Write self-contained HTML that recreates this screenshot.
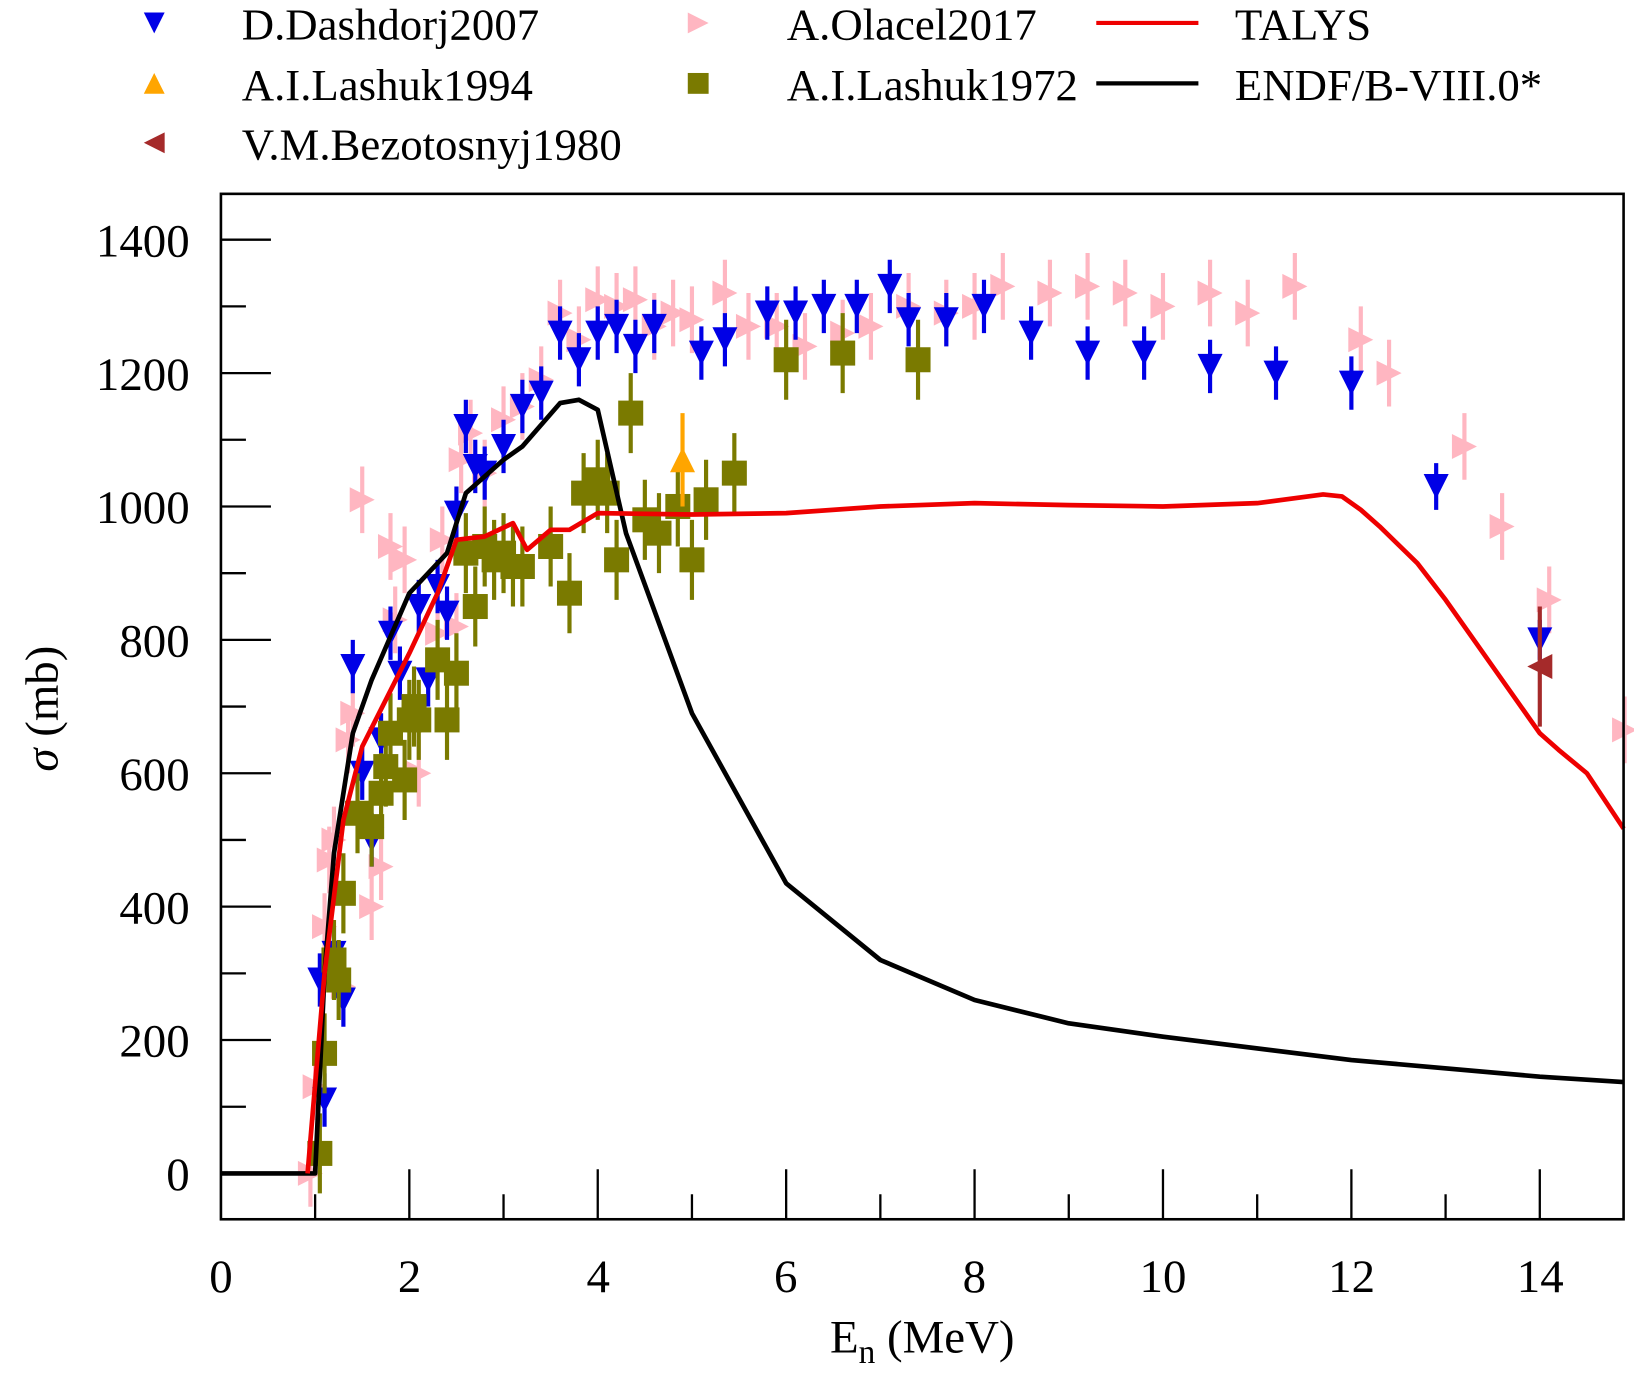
<!DOCTYPE html>
<html><head><meta charset="utf-8"><style>html,body{margin:0;padding:0;background:#fff}svg{display:block}</style></head>
<body>
<svg id="s" width="1634" height="1373" viewBox="0 0 1568 1317.5" xmlns="http://www.w3.org/2000/svg" font-family="'Liberation Serif',serif">
<rect width="1568" height="1317.5" fill="#fff"/>
<g id="data"></g>
<rect x="212" y="186" width="1346" height="984" fill="none" stroke="#000" stroke-width="2.5"/>
<g id="ticks" stroke="#000" stroke-width="2.2"></g>
<g font-size="45" text-anchor="end">
<text x="182" y="246">1400</text><text x="182" y="374">1200</text><text x="182" y="502">1000</text>
<text x="182" y="630">800</text><text x="182" y="758">600</text><text x="182" y="886">400</text>
<text x="182" y="1014">200</text><text x="182" y="1142">0</text>
</g>
<g font-size="45" text-anchor="middle">
<text x="212" y="1240">0</text><text x="393" y="1240">2</text><text x="574" y="1240">4</text><text x="754" y="1240">6</text>
<text x="935" y="1240">8</text><text x="1116" y="1240">10</text><text x="1297" y="1240">12</text><text x="1478" y="1240">14</text>
<text x="885" y="1298">E<tspan font-size="32" dy="10">n</tspan><tspan dy="-10"> (MeV)</tspan></text>
</g>
<text font-size="45" transform="translate(55,680) rotate(-90)" text-anchor="middle"><tspan font-style="italic">σ</tspan> (mb)</text>
<g font-size="43">
<text x="232" y="38">D.Dashdorj2007</text><text x="232" y="96">A.I.Lashuk1994</text><text x="232" y="153">V.M.Bezotosnyj1980</text>
<text x="755" y="38">A.Olacel2017</text><text x="755" y="96">A.I.Lashuk1972</text>
<text x="1185" y="38">TALYS</text><text x="1185" y="96">ENDF/B-VIII.0*</text>
</g>
<line x1="1052" y1="22" x2="1150" y2="22" stroke="#e00" stroke-width="4"/>
<line x1="1052" y1="80" x2="1150" y2="80" stroke="#000" stroke-width="4"/>
<g id="leg"></g>
</svg>
<script>
const X=e=>212+90.4*e, Y=v=>1126-v*0.64;
let t="";
for(let v=-100;v<=1450;v+=100){const y=Y(v);if(y<186||y>1170)continue;const L=(v%200===0)?48:24;t+=`<line x1="212" y1="${y}" x2="${212+L}" y2="${y}"/>`;}
for(let e=1;e<=14;e++){const L=(e%2===0)?48:24;t+=`<line x1="${X(e)}" y1="1170" x2="${X(e)}" y2="${1170-L}"/>`;}
document.getElementById('ticks').innerHTML=t;
function mk(type,x,y,c,s){s=s||12;
 if(type==='down')return `<polygon points="${x-s},${y-s} ${x+s},${y-s} ${x},${y+s}" fill="${c}"/>`;
 if(type==='up')return `<polygon points="${x-s},${y+s} ${x+s},${y+s} ${x},${y-s}" fill="${c}"/>`;
 if(type==='right')return `<polygon points="${x-s},${y-s} ${x-s},${y+s} ${x+s},${y}" fill="${c}"/>`;
 if(type==='left')return `<polygon points="${x+s},${y-s} ${x+s},${y+s} ${x-s},${y}" fill="${c}"/>`;
 return `<rect x="${x-s}" y="${y-s}" width="${2*s}" height="${2*s}" fill="${c}"/>`;}
function series(pts,type,c,err){let o="";for(const p of pts){const x=X(p[0]),y=Y(p[1]),e=(p[2]||err)*0.64;
 o+=`<line x1="${x}" y1="${y-e}" x2="${x}" y2="${y+e}" stroke="${c}" stroke-width="4"/>`+mk(type,x,y,c);}return o;}
function line(pts,c){return `<polyline fill="none" stroke="${c}" stroke-width="4.5" stroke-linejoin="round" points="${pts.map(p=>X(p[0])+','+Y(p[1])).join(' ')}"/>`;}
const pink=[[0.95,0],[1.0,130],[1.1,370],[1.15,470],[1.2,500],[1.3,280],[1.35,650],[1.4,690],[1.5,1010],[1.6,400],[1.7,460],[1.8,940],[1.95,920],[1.85,830],[2.1,600],[2.3,810],[2.35,950],[2.5,820],[2.55,1070],[2.65,1110],[2.8,1050],[3,1130],[3.2,1150],[3.4,1190],[3.6,1290],[3.8,1250],[4,1310],[4.2,1300],[4.4,1310],[4.6,1270],[4.8,1290],[5.0,1280],[5.35,1320],[5.6,1270],[5.9,1270],[6.2,1240],[6.6,1260],[6.9,1270],[7.3,1300],[7.7,1290],[8.0,1300],[8.3,1330],[8.8,1320],[9.2,1330],[9.6,1320],[10,1300],[10.5,1320],[10.9,1290],[11.4,1330],[12.1,1250],[12.4,1200],[13.2,1090],[13.6,970],[14.1,860],[14.9,665]];
const blue=[[1.05,290],[1.1,110],[1.2,330],[1.3,260],[1.4,760],[1.5,600],[1.6,500],[1.7,650],[1.8,810],[1.9,750],[2.1,850],[2.2,740],[2.3,880],[2.4,840],[2.5,990],[2.6,1120],[2.7,1060],[2.8,1050],[3,1090],[3.2,1150],[3.4,1170],[3.6,1260],[3.8,1220],[4,1260],[4.2,1270],[4.4,1240],[4.6,1270],[5.1,1230],[5.35,1250],[5.8,1290],[6.1,1290],[6.4,1300],[6.75,1300],[7.1,1330],[7.3,1280],[7.7,1280],[8.1,1300],[8.6,1260],[9.2,1230],[9.8,1230],[10.5,1210],[11.2,1200],[12,1185],[12.9,1030,35],[14,800,30]];
const olive=[[1.05,30],[1.1,180],[1.2,320],[1.25,290],[1.3,420],[1.45,540],[1.6,520],[1.7,570],[1.75,610],[1.8,660],[1.95,590],[2.0,680],[2.05,700],[2.1,680],[2.3,770],[2.4,680],[2.5,750],[2.6,930],[2.7,850],[2.8,940],[2.9,920],[3,930],[3.1,910],[3.2,910],[3.5,940],[3.7,870],[3.85,1020],[4,1040],[4.1,1020],[4.2,920],[4.35,1140],[4.5,980],[4.65,960],[4.85,1000],[5,920],[5.15,1010],[5.45,1050],[6.0,1220],[6.6,1230],[7.4,1220]];
const endf=[[0,0],[1,0],[1.1,300],[1.2,480],[1.4,660],[1.6,740],[2,870],[2.4,930],[2.6,1020],[3,1070],[3.2,1090],[3.6,1155],[3.8,1160],[4,1145],[4.3,960],[5,690],[6,435],[7,320],[8,260],[9,225],[10,205],[12,170],[14,145],[14.89,137]];
const talys=[[0.92,0],[1.1,300],[1.3,530],[1.5,640],[2,780],[2.3,870],[2.5,950],[2.8,955],[3.1,975],[3.25,935],[3.5,965],[3.7,965],[4,990],[5,988],[6,990],[7,1000],[8,1005],[9,1002],[10,1000],[11,1005],[11.7,1018],[11.9,1015],[12.1,995],[12.3,970],[12.7,915],[13,860],[13.5,760],[14,660],[14.2,635],[14.5,600],[14.89,517]];
let d=series(pink,'right','#ffb6c1',50)+series(blue,'down','#0000e6',40)+series(olive,'sq','#7a7a00',60)
 +series([[4.9,1070,70]],'up','#ffa500')+series([[14,760,90]],'left','#a52a2a')+line(endf,'#000')+line(talys,'#e00');
document.getElementById('data').innerHTML=d;
document.getElementById('leg').innerHTML=mk('down',148,22,'#0000e6',10)+mk('up',148,80,'#ffa500',10)+mk('left',148,137,'#a52a2a',10)+mk('right',670,22,'#ffb6c1',10)+mk('sq',670,80,'#7a7a00',10);
</script>
</body></html>
